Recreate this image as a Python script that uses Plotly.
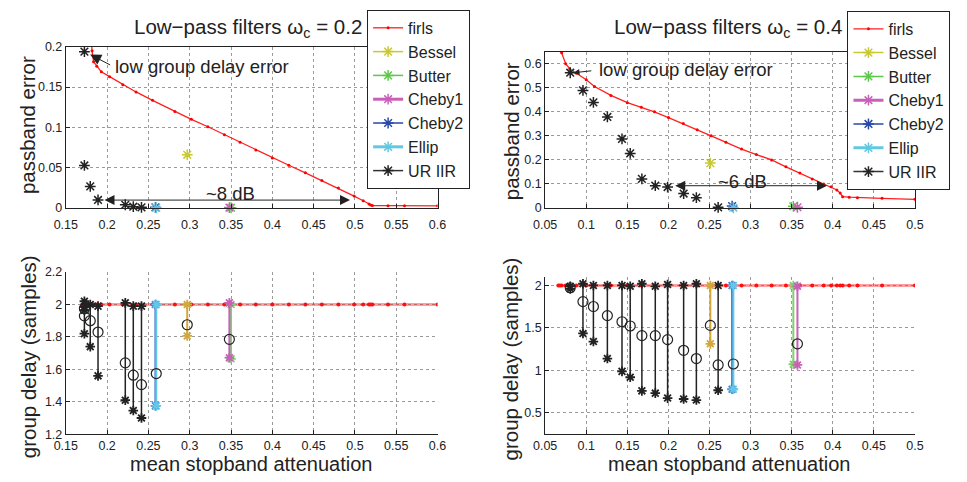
import plotly.graph_objects as go

# ---------------- data : omega_c = 0.2 ----------------
firls_att_02 = [0.170, 0.174, 0.178, 0.1812, 0.1818, 0.1836, 0.1875, 0.193, 0.203, 0.219, 0.235,
                0.255, 0.282, 0.302, 0.322, 0.342, 0.361, 0.380, 0.400, 0.420, 0.440, 0.460,
                0.480, 0.499, 0.510, 0.517, 0.519, 0.521, 0.540, 0.560, 0.600]
firls_pb_02 = [0.30, 0.26, 0.225, 0.205, 0.195, 0.1816, 0.176, 0.169, 0.163, 0.153, 0.144,
               0.1336, 0.1196, 0.110, 0.1008, 0.091, 0.0816, 0.072, 0.062, 0.053, 0.0436, 0.034,
               0.0248, 0.0148, 0.009, 0.005, 0.0038, 0.0030, 0.0029, 0.0028, 0.0027]
firls_group_delay = 2.0

ur_att_02 = [0.1725, 0.1725, 0.1796, 0.189, 0.222, 0.2317, 0.2416]
ur_pb_02 = [0.194, 0.0528, 0.0268, 0.010, 0.004, 0.0016, 0.0008]
ur_gdmax_02 = [1.985, 2.02, 2.00, 1.99, 2.01, 1.99, 1.99]
ur_gdmin_02 = [1.965, 1.82, 1.74, 1.56, 1.41, 1.346, 1.30]
ur_gdmean_02 = [1.975, 1.93, 1.90, 1.83, 1.64, 1.564, 1.506]

# classic IIR filters: [Bessel, Butter, Cheby1, Cheby2, Ellip]
iir_names = ["Bessel", "Butter", "Cheby1", "Cheby2", "Ellip"]
iir_att_02 = [0.297, 0.350, 0.348, 0.2585, 0.2595]
iir_pb_02 = [0.066, 0.0003, 0.0005, 0.0008, 0.0003]
iir_gdmax_02 = [2.00, 2.00, 2.01, 2.00, 2.00]
iir_gdmin_02 = [1.806, 1.665, 1.672, 1.375, 1.375]
iir_gdmean_02 = [1.875, None, 1.785, None, 1.574]

# ---------------- data : omega_c = 0.4 ----------------
firls_att_04 = [0.066, 0.068, 0.070, 0.075, 0.080, 0.088, 0.100, 0.110, 0.130, 0.150, 0.167,
                0.183, 0.200, 0.218, 0.235, 0.252, 0.270, 0.289, 0.307, 0.3256, 0.343, 0.360,
                0.375, 0.389, 0.398, 0.405, 0.409, 0.412, 0.420, 0.430, 0.460, 0.500]
firls_pb_04 = [0.80, 0.72, 0.645, 0.60, 0.578, 0.560, 0.533, 0.505, 0.468, 0.438, 0.419,
               0.400, 0.376, 0.351, 0.325, 0.300, 0.273, 0.245, 0.222, 0.200, 0.171, 0.145,
               0.120, 0.100, 0.088, 0.075, 0.062, 0.047, 0.045, 0.043, 0.040, 0.036]

ur_att_04 = [0.0805, 0.096, 0.1087, 0.1257, 0.1435, 0.1535, 0.1677, 0.184, 0.199, 0.2185, 0.234, 0.2605]
ur_pb_04 = [0.5624, 0.489, 0.439, 0.3785, 0.287, 0.227, 0.121, 0.0926, 0.087, 0.060, 0.043, 0.0027]
ur_gdmax_04 = [1.99, 2.02, 2.00, 2.00, 2.00, 1.99, 2.02, 1.99, 2.01, 2.00, 2.02, 2.00]
ur_gdmin_04 = [1.96, 1.435, 1.34, 1.14, 0.989, 0.92, 0.76, 0.733, 0.675, 0.664, 0.652, 0.767]
ur_gdmean_04 = [1.973, 1.81, 1.752, 1.645, 1.573, 1.523, 1.41, 1.41, 1.363, 1.237, 1.14, 1.065]

iir_att_04 = [0.251, 0.352, 0.357, 0.2775, 0.279]
iir_pb_04 = [0.1866, 0.007, 0.003, 0.008, 0.001]
iir_gdmax_04 = [2.00, 2.00, 1.99, 2.00, 2.00]
iir_gdmin_04 = [1.313, 1.073, 1.065, 0.779, 0.779]
iir_gdmean_04 = [1.53, None, 1.313, None, 1.076]

# tick labels
xt_02 = [0.15, 0.2, 0.25, 0.3, 0.35, 0.4, 0.45, 0.5, 0.55, 0.6]
xt_02_txt = ["0.15", "0.2", "0.25", "0.3", "0.35", "0.4", "0.45", "0.5", "0.55", "0.6"]
xt_04 = [0.05, 0.1, 0.15, 0.2, 0.25, 0.3, 0.35, 0.4, 0.45, 0.5]
xt_04_txt = ["0.05", "0.1", "0.15", "0.2", "0.25", "0.3", "0.35", "0.4", "0.45", "0.5"]
yt_pb_02 = [0, 0.05, 0.1, 0.15, 0.2]
yt_pb_02_txt = ["0", "0.05", "0.1", "0.15", "0.2"]
yt_pb_04 = [0, 0.1, 0.2, 0.3, 0.4, 0.5, 0.6]
yt_pb_04_txt = ["0", "0.1", "0.2", "0.3", "0.4", "0.5", "0.6"]
yt_gd_02 = [1.2, 1.4, 1.6, 1.8, 2.0, 2.2]
yt_gd_02_txt = ["1.2", "1.4", "1.6", "1.8", "2", "2.2"]
yt_gd_04 = [0.5, 1.0, 1.5, 2.0]
yt_gd_04_txt = ["0.5", "1", "1.5", "2"]

# ---------------- styles ----------------
FONT = "Liberation Sans, Arial, Helvetica, sans-serif"
TXT = "#222222"
top_colors = {"Bessel": "#C8C832", "Butter": "#5CC84A", "Cheby1": "#C860B8",
              "Cheby2": "#2848A8", "Ellip": "#60C8E0"}
bot_colors = {"Bessel": "#D2A83A", "Butter": "#80D070", "Cheby1": "#C860B8",
              "Cheby2": "#4070C8", "Ellip": "#60C8E8"}
legend_line_w = {"Bessel": 1.5, "Butter": 1.5, "Cheby1": 3, "Cheby2": 1.5, "Ellip": 3}


def gaps(vals):
    out = []
    for v in vals:
        out += [v, None]
    return out


def segs(xs, hi, lo):
    sx, sy = [], []
    for x, a, b in zip(xs, hi, lo):
        sx += [x, x, None]
        sy += [a, b, None]
    return sx, sy


fig = go.Figure()

panels = [
    dict(sfx="", bsfx="3", leg="legend", fa=firls_att_02, fp=firls_pb_02,
         ua=ur_att_02, up=ur_pb_02, uhi=ur_gdmax_02, ulo=ur_gdmin_02, umean=ur_gdmean_02,
         ia=iir_att_02, ip=iir_pb_02, ihi=iir_gdmax_02, ilo=iir_gdmin_02, imean=iir_gdmean_02),
    dict(sfx="2", bsfx="4", leg="legend2", fa=firls_att_04, fp=firls_pb_04,
         ua=ur_att_04, up=ur_pb_04, uhi=ur_gdmax_04, ulo=ur_gdmin_04, umean=ur_gdmean_04,
         ia=iir_att_04, ip=iir_pb_04, ihi=iir_gdmax_04, ilo=iir_gdmin_04, imean=iir_gdmean_04),
]

for p in panels:
    xa, ya = "x" + p["sfx"], "y" + p["sfx"]
    xb, yb = "x" + p["bsfx"], "y" + p["bsfx"]
    # --- top panel: passband error ---
    fig.add_trace(go.Scatter(x=p["fa"], y=p["fp"], xaxis=xa, yaxis=ya, name="firls",
                             legend=p["leg"], mode="lines+markers", cliponaxis=True,
                             line=dict(color="#FF2020", width=1.3),
                             marker=dict(color="#FF0000", size=3)))
    for i, nm in enumerate(iir_names):
        c = top_colors[nm]
        fig.add_trace(go.Scatter(x=[p["ia"][i]], y=[p["ip"][i]], xaxis=xa, yaxis=ya, name=nm,
                                 legend=p["leg"], mode="lines+markers", cliponaxis=False,
                                 line=dict(color=c, width=legend_line_w[nm]),
                                 marker=dict(symbol="asterisk-open", size=9, color=c,
                                             line=dict(color=c, width=1.5))))
    fig.add_trace(go.Scatter(x=gaps(p["ua"]), y=gaps(p["up"]), xaxis=xa, yaxis=ya, name="UR IIR",
                             legend=p["leg"], mode="lines+markers", connectgaps=False,
                             cliponaxis=False, line=dict(color="#333333", width=1.5),
                             marker=dict(symbol="asterisk-open", size=9, color="#222222",
                                         line=dict(color="#222222", width=1.5))))
    # --- bottom panel: group delay ---
    fig.add_trace(go.Scatter(x=p["fa"], y=[firls_group_delay] * len(p["fa"]), xaxis=xb, yaxis=yb,
                             showlegend=False, mode="lines+markers", cliponaxis=True,
                             line=dict(color="rgba(255,40,40,0.45)", width=3),
                             marker=dict(color="#FF1010", size=4)))
    sx, sy = segs(p["ua"], p["uhi"], p["ulo"])
    fig.add_trace(go.Scatter(x=sx, y=sy, xaxis=xb, yaxis=yb, showlegend=False,
                             mode="lines+markers", cliponaxis=False,
                             line=dict(color="#222222", width=1.5),
                             marker=dict(symbol="asterisk-open", size=8, color="#222222",
                                         line=dict(color="#222222", width=1.8))))
    for i, nm in enumerate(iir_names):
        c = bot_colors[nm]
        fig.add_trace(go.Scatter(x=[p["ia"][i], p["ia"][i]], y=[p["ihi"][i], p["ilo"][i]],
                                 xaxis=xb, yaxis=yb, showlegend=False, mode="lines+markers",
                                 cliponaxis=False, line=dict(color=c, width=2),
                                 marker=dict(symbol="asterisk-open", size=8, color=c,
                                             line=dict(color=c, width=1.8))))
    mx = [a for a, m in zip(p["ua"] + p["ia"], p["umean"] + p["imean"]) if m is not None]
    my = [m for m in p["umean"] + p["imean"] if m is not None]
    fig.add_trace(go.Scatter(x=mx, y=my, xaxis=xb, yaxis=yb, showlegend=False, mode="markers",
                             cliponaxis=False,
                             marker=dict(symbol="circle-open", size=10, color="#222222",
                                         line=dict(color="#222222", width=1.2))))

# ---------------- axes ----------------
W, H = 967, 482
xL = [55 / W, 435 / W]
xR = [545 / W, 923 / W]


def ax(domain, rng, tv, tt, anchor, box, standoff=0):
    return dict(domain=domain, range=rng, tickvals=tv, ticktext=tt, anchor=anchor,
                showline=True, mirror=box, linecolor="#222222", linewidth=1,
                ticks="inside", ticklen=4, tickcolor="#222222", ticklabelstandoff=standoff,
                showgrid=True, gridcolor="#9a9a9a", griddash="dot", gridwidth=1,
                zeroline=False, tickfont=dict(family=FONT, size=12.5, color=TXT))


leg_common = dict(xanchor="left", yanchor="top", bgcolor="white", bordercolor="#222222",
                  borderwidth=1, font=dict(family=FONT, size=16, color=TXT),
                  tracegroupgap=0, itemwidth=30)

fig.update_layout(
    width=W, height=H, margin=dict(l=0, r=0, t=0, b=0),
    paper_bgcolor="white", plot_bgcolor="white",
    font=dict(family=FONT, color=TXT),
    xaxis=ax(xL, [0.15, 0.6], xt_02, xt_02_txt, "y", True, 5),
    yaxis=ax([1 - 207 / H, 1 - 41 / H], [0, 0.2], yt_pb_02, yt_pb_02_txt, "x", True),
    xaxis2=ax(xR, [0.05, 0.5], xt_04, xt_04_txt, "y2", True, 5),
    yaxis2=ax([1 - 207 / H, 1 - 46 / H], [0, 0.65], yt_pb_04, yt_pb_04_txt, "x2", True),
    xaxis3=ax(xL, [0.15, 0.6], xt_02, xt_02_txt, "y3", False, 0),
    yaxis3=ax([1 - 440 / H, 1 - 273 / H], [1.2, 2.2], yt_gd_02, yt_gd_02_txt, "x3", False),
    xaxis4=ax(xR, [0.05, 0.5], xt_04, xt_04_txt, "y4", False, 0),
    yaxis4=ax([1 - 440 / H, 1 - 278 / H], [0.25, 2.1], yt_gd_04, yt_gd_04_txt, "x4", False),
    legend=dict(x=363 / W, y=1 - 3 / H, **leg_common),
    legend2=dict(x=854 / W, y=1 - 4 / H, **leg_common),
)

# ---------------- text annotations ----------------
def txt(x, y, s, size=20, angle=0, xanchor="center", xref="paper", yref="paper"):
    fig.add_annotation(x=x, y=y, text=s, showarrow=False, textangle=angle, xref=xref, yref=yref,
                       xanchor=xanchor, yanchor="middle",
                       font=dict(family=FONT, size=size, color=TXT))


txt(241 / W, 1 - 22 / H, "Low\u2212pass filters \u03c9<sub>c</sub> = 0.2", size=20.5)
txt(732 / W, 1 - 22 / H, "Low\u2212pass filters \u03c9<sub>c</sub> = 0.4", size=20.5)
txt(16 / W, 1 - 122 / H, "passband error", angle=-90, size=20.5)
txt(510 / W, 1 - 128 / H, "passband error", angle=-90, size=20.5)
txt(17 / W, 1 - 360 / H, "group delay (samples)", angle=-90, size=20.5)
txt(510 / W, 1 - 362 / H, "group delay (samples)", angle=-90, size=20.5)
txt(244 / W, 1 - 471 / H, "mean stopband attenuation", size=20)
txt(733 / W, 1 - 471 / H, "mean stopband attenuation", size=20)

# data-anchored labels and arrows
txt(0.2075, 0.175, "low group delay error", size=18.5, xanchor="left", xref="x", yref="y")
txt(0.349, 0.0185, "~8 dB", size=18.5, xref="x", yref="y")
txt(0.113, 0.577, "low group delay error", size=18.5, xanchor="left", xref="x2", yref="y2")
txt(0.29, 0.112, "~6 dB", size=18.5, xref="x2", yref="y2")


def arrow(x, y, x0, y0, xr, yr, size=1.6, both=False):
    fig.add_annotation(x=x, y=y, ax=x0, ay=y0, xref=xr, yref=yr, axref=xr, ayref=yr, text="",
                       showarrow=True, arrowhead=2, arrowsize=size, arrowwidth=1,
                       arrowcolor="#222222", arrowside="end+start" if both else "end",
                       startarrowhead=2, startarrowsize=size)


arrow(0.1795, 0.1905, 0.2055, 0.1765, "x", "y", size=2.2)
arrow(0.494, 0.0098, 0.195, 0.0098, "x", "y", size=2.0, both=True)
arrow(0.0845, 0.5624, 0.108, 0.571, "x2", "y2", size=1.2)
arrow(0.393, 0.0926, 0.2065, 0.0926, "x2", "y2", size=2.0, both=True)

fig.write_html("out.html", config={"displayModeBar": False},
               post_script="document.body.style.margin='0';document.body.style.overflow='hidden';")
